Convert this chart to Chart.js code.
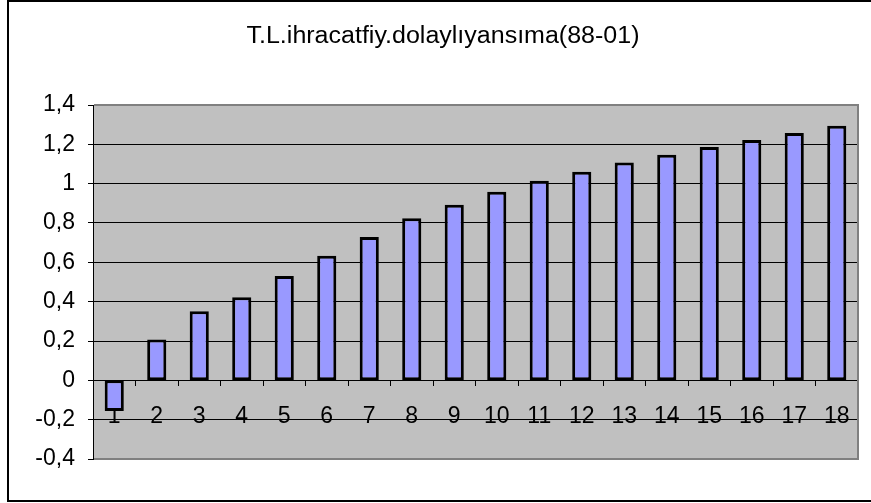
<!DOCTYPE html>
<html><head><meta charset="utf-8">
<script src="https://cdn.jsdelivr.net/npm/chart.js@4/dist/chart.umd.min.js"></script>
<style>html,body{margin:0;padding:0;background:#fff}canvas{display:block}</style>
</head><body>
<canvas id="c" width="871" height="503"></canvas>
<script>
const chartTitle = 'T.L.ihracatfiy.dolaylıyansıma(88-01)';
const categories = ['1','2','3','4','5','6','7','8','9','10','11','12','13','14','15','16','17','18'];
const values = [-0.156, 0.208, 0.351, 0.422, 0.530, 0.634, 0.729, 0.824, 0.893, 0.959, 1.015, 1.061, 1.107, 1.147, 1.186, 1.222, 1.257, 1.295];
const yMin = -0.4, yMax = 1.4, yStep = 0.2;

const FONT = '"Liberation Sans", Arial, sans-serif';

const excelLook = {
  id: 'excelLook',
  beforeDraw(chart) {
    const ctx = chart.ctx, a = chart.chartArea;
    ctx.save();
    ctx.fillStyle = '#ffffff';
    ctx.fillRect(0, 0, chart.width, chart.height);
    ctx.fillStyle = '#c0c0c0';
    ctx.fillRect(a.left, a.top, a.right - a.left, a.bottom - a.top);
    ctx.restore();
  },
  afterDraw(chart) {
    const ctx = chart.ctx, a = chart.chartArea;
    ctx.save();
    ctx.strokeStyle = '#808080';
    ctx.lineWidth = 2;
    ctx.beginPath();
    ctx.moveTo(a.left + 1, a.top);
    ctx.lineTo(a.right, a.top);
    ctx.lineTo(a.right, a.bottom);
    ctx.lineTo(a.left + 1, a.bottom);
    ctx.stroke();
    ctx.strokeStyle = '#000000';
    ctx.lineWidth = 2;
    ctx.strokeRect(8, 1, 880, 500);
    ctx.fillStyle = '#000000';
    ctx.font = '23px ' + FONT;
    ctx.textAlign = 'center';
    ctx.textBaseline = 'middle';
    const w = ctx.measureText(chartTitle).width;
    const sx = 393 / w;
    ctx.translate(443, 37);
    ctx.scale(sx, 1);
    ctx.fillText(chartTitle, 0, 0);
    ctx.restore();
  }
};

new Chart(document.getElementById('c'), {
  type: 'bar',
  data: {
    labels: categories,
    datasets: [{
      data: values,
      backgroundColor: '#9999ff',
      borderColor: '#000000',
      borderWidth: 3,
      borderSkipped: false,
      barPercentage: 0.45,
      categoryPercentage: 1
    }]
  },
  options: {
    responsive: false,
    animation: false,
    devicePixelRatio: 1,
    layout: { padding: { left: 0, right: 13, top: 105, bottom: 44 } },
    plugins: { legend: { display: false }, title: { display: false }, tooltip: { enabled: false } },
    scales: {
      x: {
        position: { y: 0 },
        grid: { drawOnChartArea: false, drawTicks: true, tickLength: 5, color: '#000000', lineWidth: 1, offset: true },
        border: { display: true, color: '#000000', width: 1 },
        ticks: { color: '#000000', font: { family: FONT, size: 23 }, padding: 18, maxRotation: 0, autoSkip: false }
      },
      y: {
        min: yMin, max: yMax,
        afterFit(scale) { scale.width = 93; },
        grid: { color: '#000000', lineWidth: 1, drawTicks: true, tickLength: 5 },
        border: { display: true, color: '#000000', width: 1 },
        ticks: {
          stepSize: yStep,
          color: '#000000',
          font: { family: FONT, size: 23 },
          padding: 13,
          callback: (v) => {
            const r = Math.round(v * 10) / 10;
            return String(r).replace('.', ',');
          }
        }
      }
    }
  },
  plugins: [excelLook]
});
</script>
</body></html>
